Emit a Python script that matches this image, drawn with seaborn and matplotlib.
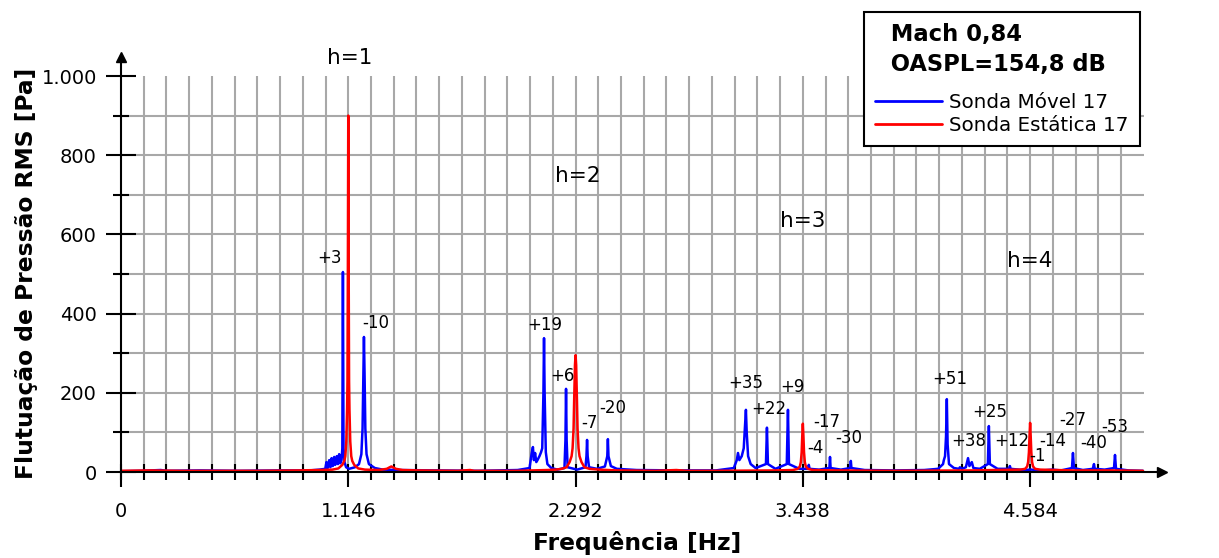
import numpy as np
import matplotlib
matplotlib.use("Agg")
import matplotlib.pyplot as plt
import seaborn as sns

# ==========================
# DATA
# ==========================
# Sonda Movel 17 - frequency [Hz] / RMS pressure [Pa]
movel_hz = [0, 100, 200, 230, 400, 600, 800, 950, 1000, 1030, 1036, 1042, 1050, 1056,
            1062, 1068, 1075, 1080, 1088, 1094, 1100, 1106, 1112, 1116, 1119, 1122,
            1127, 1135, 1150, 1180, 1200, 1212, 1218, 1222, 1225, 1228, 1232, 1238,
            1250, 1280, 1320, 1400, 1600, 1800, 2000, 2060, 2070, 2077, 2082, 2088,
            2094, 2100, 2110, 2118, 2124, 2130, 2133, 2136, 2142, 2150, 2170, 2200,
            2236, 2241, 2244, 2247, 2252, 2300, 2342, 2347, 2350, 2353, 2360, 2400,
            2440, 2452, 2455, 2458, 2470, 2500, 2600, 2800, 3000, 3090, 3105, 3111,
            3118, 3130, 3140, 3147, 3151, 3155, 3162, 3175, 3200, 3252, 3257, 3262,
            3300, 3357, 3363, 3368, 3420, 3465, 3468, 3472, 3520, 3572, 3575, 3578,
            3630, 3677, 3680, 3683, 3750, 3900, 4050, 4120, 4145, 4149, 4155, 4160,
            4164, 4168, 4175, 4200, 4225, 4230, 4240, 4260, 4271, 4278, 4290, 4298,
            4330, 4371, 4376, 4381, 4420, 4478, 4482, 4486, 4550, 4590, 4650, 4694,
            4740, 4795, 4800, 4805, 4850, 4900, 4906, 4910, 4960, 5007, 5012, 5017,
            5080, 5153]
movel_pa = [2, 3, 5, 3, 4, 3, 4, 4, 6, 8, 25, 10, 30, 12,
            35, 15, 38, 18, 40, 20, 45, 22, 30, 60, 505, 60,
            25, 12, 8, 12, 20, 45, 110, 250, 341, 250, 110, 45,
            20, 10, 6, 5, 4, 3, 5, 10, 45, 63, 30, 48,
            25, 30, 40, 50, 60, 200, 338, 200, 50, 20, 10, 6,
            10, 80, 210, 80, 12, 6, 12, 40, 81, 40, 12, 8,
            14, 40, 83, 40, 15, 8, 5, 4, 4, 10, 30, 48,
            30, 40, 60, 120, 157, 100, 40, 20, 10, 20, 112, 20,
            8, 20, 157, 20, 8, 8, 18, 8, 6, 10, 38, 10,
            6, 10, 28, 10, 5, 4, 5, 8, 20, 30, 40, 90,
            184, 70, 20, 10, 8, 12, 8, 12, 35, 15, 25, 10,
            8, 20, 116, 20, 8, 8, 15, 8, 5, 6, 4, 6,
            4, 10, 48, 10, 5, 8, 20, 8, 6, 10, 43, 8,
            4, 3]

# Sonda Estatica 17
estatica_hz = [0, 150, 300, 500, 700, 900, 1000, 1066, 1096, 1116, 1126, 1131, 1136,
               1140, 1142, 1144, 1146, 1148, 1150, 1152, 1156, 1161, 1166, 1176, 1196,
               1230, 1300, 1340, 1355, 1363, 1371, 1386, 1420, 1500, 1700, 1760, 1780,
               2000, 2150, 2192, 2222, 2247, 2262, 2272, 2277, 2282, 2285, 2287, 2289,
               2292, 2295, 2297, 2299, 2302, 2307, 2312, 2322, 2337, 2362, 2412, 2500,
               2700, 2800, 2850, 3000, 3300, 3388, 3413, 3423, 3428, 3432, 3435, 3438,
               3441, 3444, 3448, 3453, 3463, 3488, 3600, 3900, 4300, 4400, 4534, 4559,
               4569, 4574, 4578, 4581, 4584, 4587, 4590, 4594, 4599, 4609, 4634, 4800,
               5000, 5153]
estatica_pa = [3, 4, 3, 3, 3, 4, 5, 6, 9, 18, 28, 40, 77,
               157, 230, 512, 900, 512, 230, 157, 77, 40, 28, 18, 9,
               6, 5, 8, 12, 14, 12, 8, 5, 4, 3, 5, 3,
               3, 5, 6, 8, 12, 25, 40, 60, 110, 182, 225, 270,
               295, 270, 225, 182, 110, 60, 40, 25, 12, 8, 6, 4,
               3, 5, 3, 3, 4, 5, 8, 14, 25, 50, 90, 122,
               90, 50, 25, 14, 8, 5, 4, 3, 4, 5, 6, 8,
               14, 25, 50, 90, 124, 90, 50, 25, 14, 8, 6, 4,
               4, 3]

harmonic_labels = ["h=1", "h=2", "h=3", "h=4"]
peak_labels = ["+3", "-10", "+19", "+6", "-7", "-20", "+35", "+22", "+9", "-17",
               "-4", "-30", "+51", "+38", "+25", "+12", "-1", "-14", "-27", "-40", "-53"]

x_tick_hz = [0, 1146, 2292, 3438, 4584]
x_tick_labels = ["0", "1.146", "2.292", "3.438", "4.584"]
y_tick_pa = [0, 200, 400, 600, 800, 1000]
y_tick_labels = ["0", "200", "400", "600", "800", "1.000"]

# text positions (Hz, Pa)
harmonic_pos = [(1155, 1045), (2304, 747), (3438, 634), (4583, 533)]
peak_pos = [(1049, 540), (1286, 376), (2138, 371), (2228, 242), (2360, 124),
            (2481, 162), (3151, 225), (3267, 159), (3387, 215), (3560, 126),
            (3504, 61), (3670, 86), (4180, 235), (4275, 78), (4381, 152),
            (4492, 78), (4623, 40), (4699, 78), (4800, 131), (4906, 73), (5012, 114)]

# ==========================
# FIGURE
# ==========================
sns.set_style("white")
plt.rcParams["font.family"] = ["DejaVu Sans"]
plt.rcParams["text.color"] = "black"
plt.rcParams["xtick.color"] = "black"
plt.rcParams["ytick.color"] = "black"
plt.rcParams["axes.labelcolor"] = "black"

W, H = 1219, 558
fig = plt.figure(figsize=(W / 100, H / 100), dpi=100)
ax = fig.add_axes([121 / W, (H - 472) / H, 1041 / W, 415 / H])

grid_step = 1146 / 10
grid_color = "#a8a8a8"
ax.vlines(np.arange(1, 45) * grid_step, 0, 1000, color=grid_color, lw=1.5, zorder=0)
ax.hlines(np.arange(100, 1000, 100), 0, 45 * grid_step, color=grid_color, lw=1.5, zorder=0)

sns.lineplot(x=movel_hz, y=movel_pa, color="#0000ff", lw=1.8, label="Sonda Móvel 17",
             estimator=None, ax=ax, zorder=2)
sns.lineplot(x=estatica_hz, y=estatica_pa, color="#ff0000", lw=1.8, label="Sonda Estática 17",
             estimator=None, ax=ax, zorder=3)

ax.set_xlim(0, 5249)
ax.set_ylim(0, 1048)

# axes / ticks
sns.despine(ax=ax)
for side in ["left", "bottom"]:
    ax.spines[side].set_linewidth(1.5)
    ax.spines[side].set_color("black")
    ax.spines[side].set_zorder(4)

ax.set_xticks(x_tick_hz)
ax.set_xticklabels(x_tick_labels)
ax.set_xticks(np.arange(0, 45) * grid_step, minor=True)
ax.xaxis.remove_overlapping_locs = False
ax.set_yticks(y_tick_pa)
ax.set_yticklabels(y_tick_labels)
ax.set_yticks(np.arange(100, 1000, 200), minor=True)

ax.tick_params(axis="x", which="major", direction="out", length=10.8, width=1.5,
               pad=11, labelsize=14, bottom=True)
ax.tick_params(axis="x", which="minor", direction="inout", length=11.5, width=1.5, bottom=True)
ax.tick_params(axis="y", which="major", direction="inout", length=21.6, width=1.5,
               pad=6.5, labelsize=14, left=True)
ax.tick_params(axis="y", which="minor", direction="inout", length=11.5, width=1.5, left=True)
ax.set_xlabel("")
ax.set_ylabel("")

# arrow heads
ax.plot(1, 0, ">", color="black", ms=7, transform=ax.transAxes, clip_on=False, zorder=5)
ax.plot(0, 1, "^", color="black", ms=7, transform=ax.transAxes, clip_on=False, zorder=5)

# annotations
for txt, (fx, fy) in zip(harmonic_labels, harmonic_pos):
    ax.text(fx, fy, txt, fontsize=15.5, ha="center", va="center", clip_on=False)
for txt, (fx, fy) in zip(peak_labels, peak_pos):
    ax.text(fx, fy, txt, fontsize=12, ha="center", va="center", zorder=6)

fig.text(637 / W, 1 - 543 / H, "Frequência [Hz]", fontsize=16.8, fontweight="bold",
         ha="center", va="center")
fig.text(27 / W, 1 - 273 / H, "Flutuação de Pressão RMS [Pa]", fontsize=16.8,
         fontweight="bold", rotation=90, ha="center", va="center")

leg = ax.legend(title="  Mach 0,84\n  OASPL=154,8 dB", loc="upper left",
                bbox_to_anchor=(864 / W, 1 - 12 / H), bbox_transform=fig.transFigure,
                borderaxespad=0, fontsize=14.3, title_fontproperties={"weight": "bold", "size": 16.3},
                alignment="left", handlelength=3.4, handletextpad=0.35, labelspacing=0.2,
                borderpad=0.55, frameon=True, fancybox=False, framealpha=1, edgecolor="black")
leg.get_frame().set_linewidth(1.5)
leg.get_title().set_linespacing(1.4)
leg._legend_box.sep = 12
leg.set_zorder(10)
for line in leg.get_lines():
    line.set_linewidth(2)

fig.savefig("out.png", dpi=100)
